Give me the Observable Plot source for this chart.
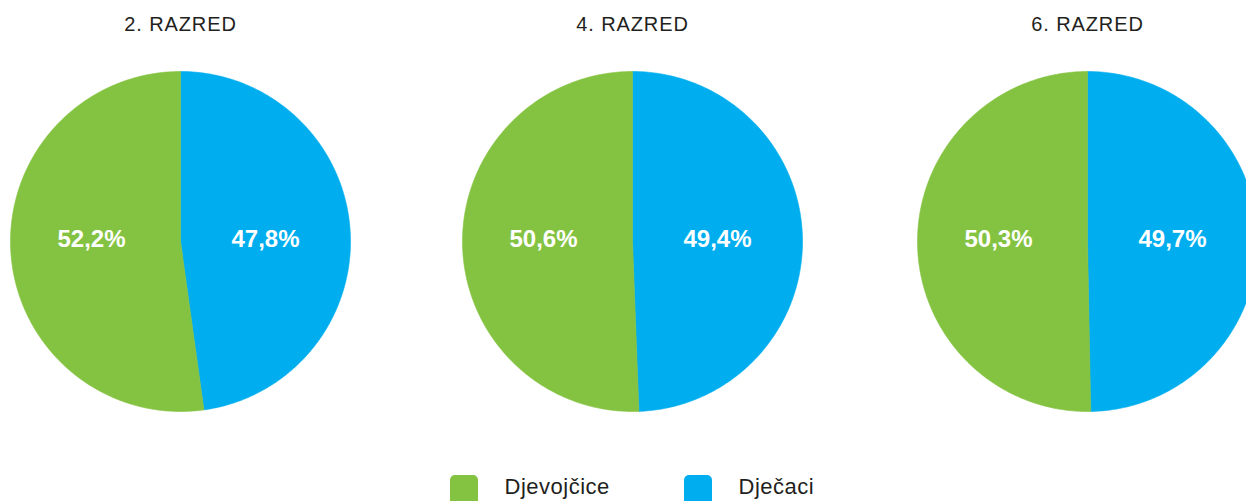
<!DOCTYPE html>
<html><head><meta charset="utf-8">
<script src="https://cdn.jsdelivr.net/npm/d3@7"></script>
<script src="https://cdn.jsdelivr.net/npm/@observablehq/plot@0.6"></script>
<style>
  html,body{margin:0;padding:0;background:#fff;overflow:hidden;}
  #chart svg{overflow:hidden;}
  .ttl text{letter-spacing:0.9px;}
  .lg text{letter-spacing:0.5px;}
</style>
</head><body><div id="chart"></div>
<script>
// ---- data ----
const grades = ["2. RAZRED", "4. RAZRED", "6. RAZRED"];
const series = ["Djevojčice", "Dječaci"];
const girls = [52.2, 50.6, 50.3];
const boys = [47.8, 49.4, 49.7];
const colors = ["#84c341", "#00aeef"];

// ---- layout ----
const W = 1246, H = 501, R = 170, CY = 241;
const centers = [180, 632, 1087];
const font = "'Liberation Sans', Arial, Helvetica, sans-serif";

// build slice polygons from the data (boys clockwise from 12 o'clock, then girls)
const poly = [];
const labels = [];
grades.forEach((g, i) => {
  const cx = centers[i];
  const slices = [
    {s: "Dječaci", v: boys[i]},
    {s: "Djevojčice", v: girls[i]}
  ];
  let a0 = 0;
  slices.forEach(sl => {
    const a1 = a0 + sl.v / 100 * 2 * Math.PI;
    const id = g + "|" + sl.s;
    poly.push({id, s: sl.s, x: cx, y: CY});
    const n = 240;
    for (let k = 0; k <= n; k++) {
      const a = a0 + (a1 - a0) * k / n;
      poly.push({id, s: sl.s, x: cx + R * Math.sin(a), y: CY - R * Math.cos(a)});
    }
    poly.push({id, s: sl.s, x: cx, y: CY});
    const mid = (a0 + a1) / 2;
    labels.push({
      x: cx + (Math.sin(mid) > 0 ? 85 : -89),
      y: 239,
      t: sl.v.toFixed(1).replace(".", ",") + "%"
    });
    a0 = a1;
  });
});

const titles = grades.map((g, i) => ({x: centers[i], y: 24, t: g}));
const legend = series.map((s, i) => ({s, x: [450, 684][i]}));

const chart = Plot.plot({
  width: W, height: H,
  margin: 0,
  x: {domain: [0, W], range: [0, W], axis: null},
  y: {domain: [0, H], range: [0, H], axis: null},
  color: {domain: series, range: colors},
  style: {fontFamily: font, background: "#fff"},
  marks: [
    Plot.line(poly, {x: "x", y: "y", z: "id", fill: "s", stroke: "s", strokeWidth: 0.6, curve: "linear"}),
    Plot.text(labels, {x: "x", y: "y", text: "t", fill: "white", fontWeight: "bold", fontSize: 24, textAnchor: "middle", lineAnchor: "middle"}),
    Plot.text(titles, {x: "x", y: "y", text: "t", fill: "#231f20", fontSize: 20, textAnchor: "middle", lineAnchor: "middle", className: "ttl"}),
    Plot.rect(legend, {x1: "x", x2: d => d.x + 28, y1: 475, y2: 506, fill: "s", rx: 5}),
    Plot.text(legend, {x: d => d.x + 54, y: 486, text: "s", fill: "#231f20", fontSize: 22, textAnchor: "start", lineAnchor: "middle", className: "lg"})
  ]
});
document.getElementById("chart").appendChild(chart);
</script>
</body></html>
